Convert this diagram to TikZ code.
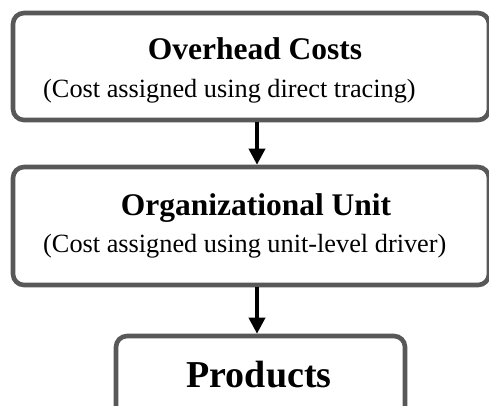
\documentclass[tikz,border=0pt]{standalone}
\usepackage{fontspec}
\setmainfont{Liberation Serif}
\usetikzlibrary{arrows.meta, positioning}
\definecolor{boxgray}{RGB}{88,88,88}

\tikzset{
  costbox/.style={draw=boxgray, line width=4.6bp, rounded corners=11bp, inner sep=0pt},
  headtext/.style={inner sep=0pt, anchor=base, font=\fontsize{31.5bp}{36bp}\selectfont\bfseries},
  subtext/.style={inner sep=0pt, anchor=base west, font=\fontsize{26.3bp}{30bp}\selectfont},
  flow/.style={line width=3.6bp, -{Triangle[width=16bp, length=16bp]}}
}

\begin{document}
\begin{tikzpicture}[x=1bp, y=-1bp]
            \useasboundingbox (0,0) rectangle (489,405);
            % boxes
            \node[costbox, minimum width=476bp, minimum height=107bp] (ovh) at (251,66.5) {};
            \node[costbox, minimum width=476bp, minimum height=118bp] (org) at (251,226) {};
            \node[costbox, minimum width=289bp, minimum height=90bp] (prod) at (260.5,381) {};
            % texts
            \node[headtext] (ovhhead) at (255,59) {Overhead Costs};
            \node[subtext] (ovhsub) at (43,97) {(Cost assigned using direct tracing)};
            \node[headtext] (orghead) at (256,215) {Organizational Unit};
            \node[subtext] (orgsub) at (43,252) {(Cost assigned using unit-level driver)};
            \node[headtext, font=\fontsize{38bp}{42bp}\selectfont\bfseries] (prodhead) at (259,387) {Products};
            % arrows
            \draw[flow] ([xshift=6bp]ovh.south) -- ([xshift=6bp]org.north);
            \draw[flow] ([xshift=6bp]org.south) -- ([xshift=6bp]org.south |- prod.north);
\end{tikzpicture}
\end{document}
